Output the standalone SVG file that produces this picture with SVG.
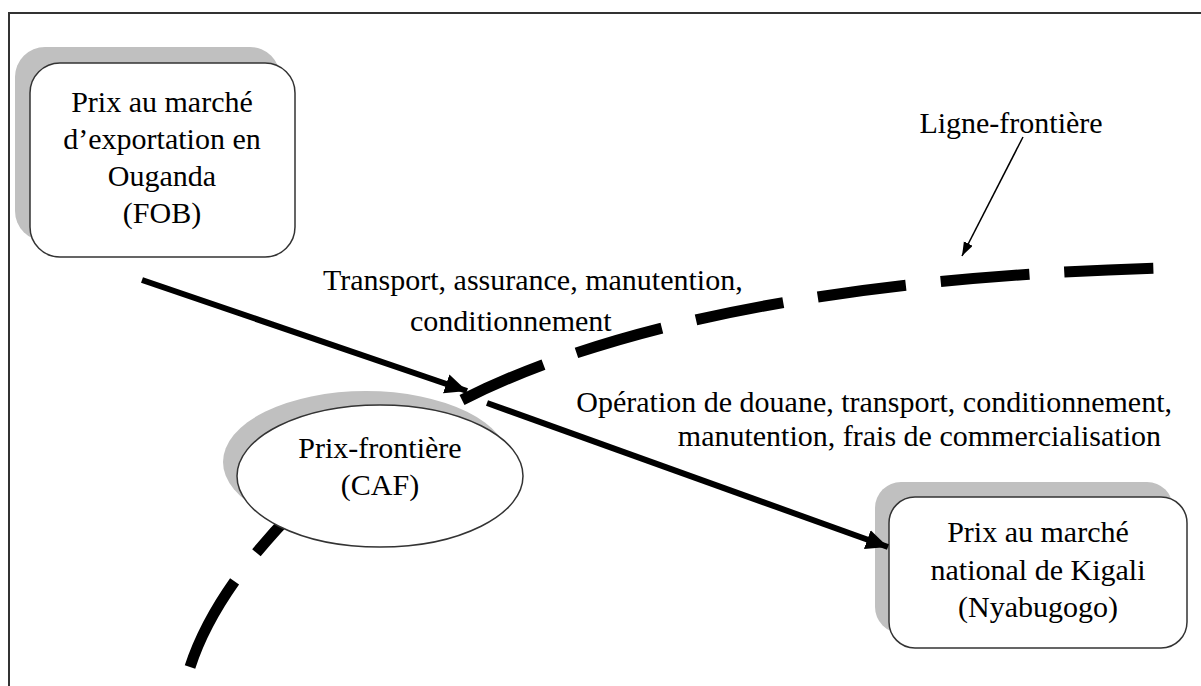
<svg xmlns="http://www.w3.org/2000/svg" width="1201" height="686" viewBox="0 0 1201 686">
  <style>
    .lbl { font-family: "Liberation Serif", "Times New Roman", serif; font-size: 30px; fill: #000; }
    .mid { text-anchor: middle; }
    .end { text-anchor: end; }
    .box { fill: #fff; stroke: #333; stroke-width: 1.5; }
    .shadow { fill: #c0c0c0; stroke: none; }
    .frontier { fill: none; stroke: #000; stroke-width: 11; stroke-dasharray: 89 35; }
    .flow { fill: none; stroke: #000; stroke-width: 6; }
    .pointer { fill: none; stroke: #000; stroke-width: 1.5; }
  </style>
  <defs>
    <marker id="headBig" markerUnits="userSpaceOnUse" markerWidth="24" markerHeight="22" refX="22" refY="10" orient="auto">
      <path d="M0,0 L22,10 L0,20 z" fill="#000"/>
    </marker>
    <marker id="headSmall" markerUnits="userSpaceOnUse" markerWidth="16" markerHeight="12" refX="14" refY="5" orient="auto">
      <path d="M0,0 L14,5 L0,10 z" fill="#000"/>
    </marker>
  </defs>

  <rect width="1201" height="686" fill="#fff"/>
  <!-- page frame (runs off the right and bottom edges) -->
  <rect x="9" y="13" width="1220" height="700" fill="none" stroke="#333" stroke-width="2"/>

  <!-- border line -->
  <g id="frontier">
    <path class="frontier" d="M190,667 Q215,590 300,505" style="stroke-dasharray: 97 36"/>
    <path class="frontier" d="M462,400 C600,330 820,278 1160,268"/>
  </g>

  <g id="node-fob">
    <rect class="shadow" x="15" y="47" width="265" height="194" rx="30"/>
    <rect class="box" x="30" y="63" width="265" height="194" rx="30"/>
    <text class="lbl mid" x="162" y="112">Prix au marché</text>
    <text class="lbl mid" x="162" y="149">d’exportation en</text>
    <text class="lbl mid" x="162" y="186">Ouganda</text>
    <text class="lbl mid" x="162" y="223">(FOB)</text>
  </g>

  <g id="node-caf">
    <ellipse class="shadow" cx="366" cy="462" rx="143" ry="71"/>
    <ellipse class="box" cx="380" cy="476" rx="143" ry="71"/>
    <text class="lbl mid" x="380" y="458">Prix-frontière</text>
    <text class="lbl mid" x="380" y="495">(CAF)</text>
  </g>

  <g id="node-kigali">
    <rect class="shadow" x="875" y="482" width="298" height="151" rx="26"/>
    <rect class="box" x="889" y="497" width="298" height="151" rx="26"/>
    <text class="lbl mid" x="1038" y="542">Prix au marché</text>
    <text class="lbl mid" x="1038" y="580">national de Kigali</text>
    <text class="lbl mid" x="1038" y="617">(Nyabugogo)</text>
  </g>

  <g id="connectors">
    <line class="flow" x1="142" y1="280" x2="467" y2="391" marker-end="url(#headBig)"/>
    <line class="flow" x1="487" y1="403" x2="888" y2="547" marker-end="url(#headBig)"/>
    <line class="pointer" x1="1023" y1="137" x2="962" y2="256" marker-end="url(#headSmall)"/>
  </g>

  <g id="labels">
    <text class="lbl" x="323" y="290">Transport, assurance, manutention,</text>
    <text class="lbl" x="410" y="331">conditionnement</text>
    <text class="lbl end" x="1172" y="412">Opération de douane, transport, conditionnement,</text>
    <text class="lbl end" x="1161" y="446">manutention, frais de commercialisation</text>
    <text class="lbl mid" x="1011" y="133">Ligne-frontière</text>
  </g>
</svg>
